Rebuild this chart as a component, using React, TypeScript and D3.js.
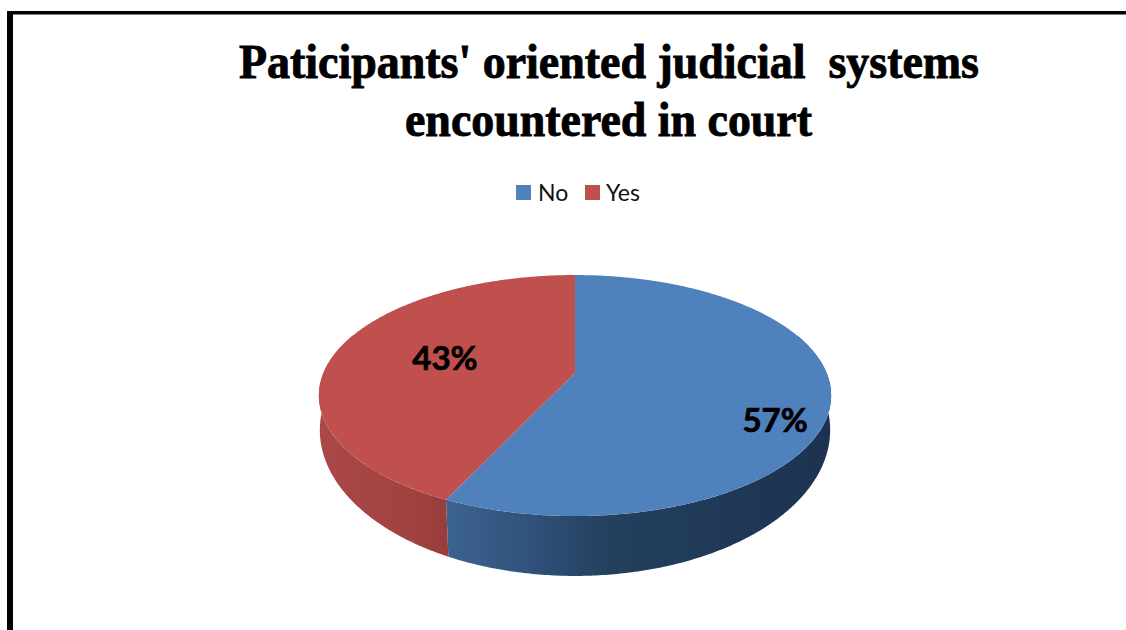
import React from "react";
import * as d3 from "d3";

// Chart content
const titleLines = ["Paticipants' oriented judicial  systems", "encountered in court"];
const categories = ["No", "Yes"];
const shares = [57, 43];
const topColors = ["#4f81bd", "#c0504d"];
const wallStops = [
  [
    ["0%", "#3c6391"],
    ["20%", "#31537c"],
    ["42%", "#24405f"],
    ["100%", "#1c3250"],
  ],
  [
    ["0%", "#a94846"],
    ["60%", "#a34341"],
    ["100%", "#973d3b"],
  ],
];

// Perspective disc: centre offset, radius, vertical reach and foreshortening
type Disc = { cx: number; cy: number; r: number; b: number; k: number };
const topDisc: Disc = { cx: 575, cy: 373, r: 251.6, b: 116.3, k: -0.187 };
const baseDisc: Disc = { cx: 575, cy: 405, r: 251.4, b: 141.7, k: -0.171 };

const project = (d: Disc, theta: number, rad = 1): [number, number] => {
  const u = rad * Math.sin(theta);
  const v = -rad * Math.cos(theta);
  const w = 1 + d.k * v;
  return [d.cx + (d.r * u) / w, d.cy + (d.b * v) / w];
};

const pieLayout = d3.pie<number>().sort(null).value((v) => v);
const slices = pieLayout(shares);

const rimAngles = (a0: number, a1: number) => {
  const n = Math.max(2, Math.ceil(Math.abs(a1 - a0) / 0.01));
  return d3.range(n + 1).map((i) => a0 + ((a1 - a0) * i) / n);
};
const outline = d3.line().curve(d3.curveLinear);

const topPath = (a0: number, a1: number) =>
  outline([[topDisc.cx, topDisc.cy], ...rimAngles(a0, a1).map((t) => project(topDisc, t))]) + "Z";

// The visible front of the side wall lies between these two bearings
const wallFrom = (70 * Math.PI) / 180;
const wallTo = (290 * Math.PI) / 180;

const wallPath = (a0: number, a1: number) => {
  const lo = Math.max(a0, wallFrom);
  const hi = Math.min(a1, wallTo);
  const angles = rimAngles(lo, hi);
  const upper = angles.map((t) => project(topDisc, t));
  const lower = angles.map((t) => project(baseDisc, t)).reverse();
  return outline([...upper, ...lower]) + "Z";
};

const labelPlacement = [
  { rad: 0.8, dx: -3, dy: 25 },
  { rad: 0.55, dx: 2, dy: -2 },
];

const legendX = [516, 585];
const legendTextX = [538, 606];

export default function App() {
  const boundary = project(topDisc, slices[0].endAngle);
  const wallSpan = [
    [boundary[0], 831],
    [319, boundary[0] + 4],
  ];
  return (
    <svg
      width={1126}
      height={630}
      viewBox="0 0 1126 630"
      style={{ position: "absolute", left: 0, top: 0, background: "#fff" }}
    >
      <defs>
        {wallStops.map((stops, i) => (
          <linearGradient
            key={i}
            id={`wall-${i}`}
            gradientUnits="userSpaceOnUse"
            x1={wallSpan[i][0]}
            x2={wallSpan[i][1]}
            y1={0}
            y2={0}
          >
            {stops.map(([offset, color]) => (
              <stop key={offset} offset={offset} stopColor={color} />
            ))}
          </linearGradient>
        ))}
      </defs>

      {/* Frame on the top and left edges */}
      <rect x={7} y={11} width={1119} height={3.5} fill="#000" />
      <rect x={7} y={11} width={6} height={619} fill="#000" />

      {/* Title */}
      <g
        fontFamily="'Liberation Serif', serif"
        fontWeight={700}
        fontSize={48}
        fill="#000"
        stroke="#000"
        strokeWidth={0.9}
      >
        <text
          x={239}
          y={78}
          textLength={740}
          lengthAdjust="spacingAndGlyphs"
          xmlSpace="preserve"
          style={{ whiteSpace: "pre" }}
        >
          {titleLines[0]}
        </text>
        <text x={405} y={136} textLength={407} lengthAdjust="spacingAndGlyphs">
          {titleLines[1]}
        </text>
      </g>

      {/* Legend */}
      {categories.map((c, i) => (
        <g key={c}>
          <rect x={legendX[i]} y={185} width={15} height={15} fill={topColors[i]} />
          <text
            x={legendTextX[i]}
            y={201}
            fontFamily="Lato, sans-serif"
            fontSize={23}
            fill="#111"
          >
            {c}
          </text>
        </g>
      ))}

      {/* Side wall first, top surface painted over it */}
      {slices.map((s, i) => (
        <path key={i} d={wallPath(s.startAngle, s.endAngle)} fill={`url(#wall-${i})`} />
      ))}
      {slices.map((s, i) => (
        <path key={i} d={topPath(s.startAngle, s.endAngle)} fill={topColors[i]} />
      ))}

      {/* Percentage labels */}
      {slices.map((s, i) => {
        const mid = (s.startAngle + s.endAngle) / 2;
        const [x, y] = project(topDisc, mid, labelPlacement[i].rad);
        return (
          <text
            key={i}
            x={x + labelPlacement[i].dx}
            y={y + labelPlacement[i].dy}
            textAnchor="middle"
            dominantBaseline="central"
            fontFamily="Lato, sans-serif"
            fontWeight={700}
            fontSize={33}
            fill="#000"
            stroke="#000"
            strokeWidth={0.7}
          >
            {`${shares[i]}%`}
          </text>
        );
      })}
    </svg>
  );
}
